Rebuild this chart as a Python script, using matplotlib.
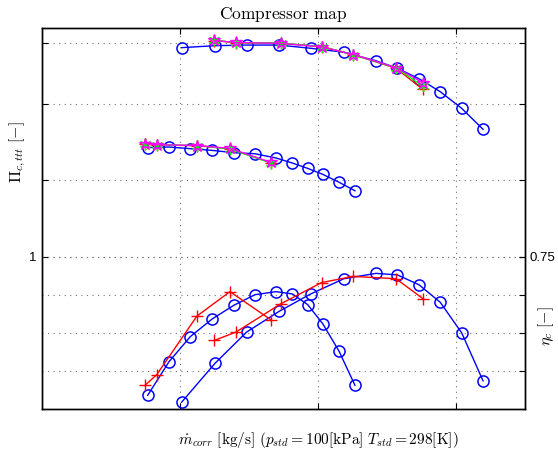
import matplotlib
matplotlib.use("Agg")
import matplotlib.pyplot as plt

plt.rcParams["mathtext.fontset"] = "cm"
plt.rcParams["font.family"] = ["Liberation Sans", "DejaVu Sans"]

# Corrected mass flow [kg/s] for each speed line
m_line_lo = [0.0766, 0.0920, 0.1075, 0.1232, 0.1389, 0.1543, 0.1696, 0.1814,
             0.1925, 0.2034, 0.2152, 0.2268]
m_line_hi = [0.1012, 0.1254, 0.1483, 0.1717, 0.1947, 0.2188, 0.2420, 0.2575,
             0.2732, 0.2886, 0.3041, 0.3196]

# Map pressure ratio and efficiency along the speed lines
pr_line_lo = [1.715, 1.719, 1.708, 1.697, 1.682, 1.675, 1.647, 1.614, 1.579,
              1.540, 1.488, 1.432]
pr_line_hi = [2.371, 2.384, 2.388, 2.388, 2.367, 2.341, 2.285, 2.236, 2.167,
              2.082, 1.973, 1.835]
eta_line_lo = [0.568, 0.612, 0.645, 0.668, 0.686, 0.700, 0.704, 0.701, 0.687,
               0.662, 0.626, 0.581]
eta_line_hi = [0.559, 0.610, 0.651, 0.678, 0.701, 0.721, 0.728, 0.726, 0.713,
               0.690, 0.650, 0.587]

# Measured operating points
m_meas_lo = [0.0746, 0.0831, 0.1123, 0.1362, 0.1659]
m_meas_hi = [0.1249, 0.1406, 0.1730, 0.2027, 0.2256, 0.2565, 0.2759]
pr_meas_lo = [1.739, 1.732, 1.728, 1.708, 1.616]
pr_meas_hi = [2.417, 2.404, 2.400, 2.377, 2.325, 2.236, 2.098]
eta_meas_lo = [0.581, 0.595, 0.672, 0.704, 0.667]
eta_meas_hi = [0.640, 0.651, 0.688, 0.716, 0.724, 0.721, 0.695]

# Model predictions at the measured points
pr_model_a_lo = [1.741, 1.733, 1.729, 1.706, 1.614]
pr_model_a_hi = [2.420, 2.404, 2.401, 2.378, 2.325, 2.238, 2.119]
pr_model_b_lo = [1.742, 1.734, 1.729, 1.710, 1.618]
pr_model_b_hi = [2.418, 2.405, 2.399, 2.376, 2.326, 2.240, 2.141]

x_ticks = [0.1, 0.2, 0.3]
pr_ticks = [1.0, 1.5, 2.0, 2.4]
pr_ticklabels = ["1", "", "", ""]
eta_ticks = [0.60, 0.65, 0.70, 0.75]
eta_ticklabels = ["", "", "", "0.75"]

W, H = 558, 455
fig = plt.figure(figsize=(W / 100, H / 100), dpi=100)
ax = fig.add_axes([42 / W, 1 - 409 / H, (525 - 42) / W, (409 - 28) / H])
ax2 = ax.twinx()

grid_kw = dict(color="0.45", linestyle=(0, (1, 4)), linewidth=0.8)
line_kw = dict(linewidth=1.0)

# Pressure ratio (left axis)
for m, pr in [(m_line_lo, pr_line_lo), (m_line_hi, pr_line_hi)]:
    ax.plot(m, pr, "-o", color="#0000ff", mfc="none", ms=8, mew=1.1, **line_kw)
for m, pr in [(m_meas_lo, pr_meas_lo), (m_meas_hi, pr_meas_hi)]:
    ax.plot(m, pr, "-+", color="#ff0000", ms=8, mew=1.0, **line_kw)
for m, pr in [(m_meas_lo, pr_model_a_lo), (m_meas_hi, pr_model_a_hi)]:
    ax.plot(m, pr, "-", color="#00ff00", marker=(6, 2, 0), ms=8, mew=1.0, **line_kw)
for m, pr in [(m_meas_lo, pr_model_b_lo), (m_meas_hi, pr_model_b_hi)]:
    ax.plot(m, pr, "-", color="#ff00ff", marker="*", mfc="none", ms=9, mew=1.0, **line_kw)

# Efficiency (right axis)
for m, eta in [(m_line_lo, eta_line_lo), (m_line_hi, eta_line_hi)]:
    ax2.plot(m, eta, "-o", color="#0000ff", mfc="none", ms=8, mew=1.1, **line_kw)
for m, eta in [(m_meas_lo, eta_meas_lo), (m_meas_hi, eta_meas_hi)]:
    ax2.plot(m, eta, "-+", color="#ff0000", ms=8, mew=1.0, **line_kw)

ax.set_xlim(0, 0.35)
ax.set_ylim(0, 2.5)
ax2.set_ylim(0.55, 1.05)

ax.set_xticks(x_ticks)
ax.set_xticklabels([])
ax.set_yticks(pr_ticks)
ax.set_yticklabels(pr_ticklabels)
ax2.set_yticks(eta_ticks)
ax2.set_yticklabels(eta_ticklabels)

ax.grid(True, **grid_kw)
ax2.grid(True, axis="y", **grid_kw)
ax.set_axisbelow(True)

ax.tick_params(direction="in", length=4, width=0.8, top=True, right=True,
               labelright=False, labelsize=9.5, pad=4)
ax2.tick_params(direction="in", length=4, width=0.8, labelsize=9.5, pad=3)

for a in (ax, ax2):
    for s in a.spines.values():
        s.set_linewidth(1.0)
        s.set_color("black")

fig.text(283.5 / W, 1 - 14 / H, r"$\mathrm{Compressor\ map}$", fontsize=12.5,
         ha="center", va="center")
fig.text(318 / W, 1 - 440 / H,
         r"$\dot{m}_{corr}\ \mathrm{[kg/s]}\ (p_{std}=100\mathrm{[kPa]}\ T_{std}=298\mathrm{[K]})$",
         fontsize=11, ha="center", va="center")
fig.text(18 / W, 1 - 152 / H, r"$\Pi_{c,ttt}\ \mathrm{[-]}$", fontsize=11.5,
         rotation=90, ha="center", va="center")
fig.text(546 / W, 1 - 326 / H, r"$\eta_c\ \mathrm{[-]}$", fontsize=11.5,
         rotation=90, ha="center", va="center")

fig.savefig("out.png", dpi=100)
